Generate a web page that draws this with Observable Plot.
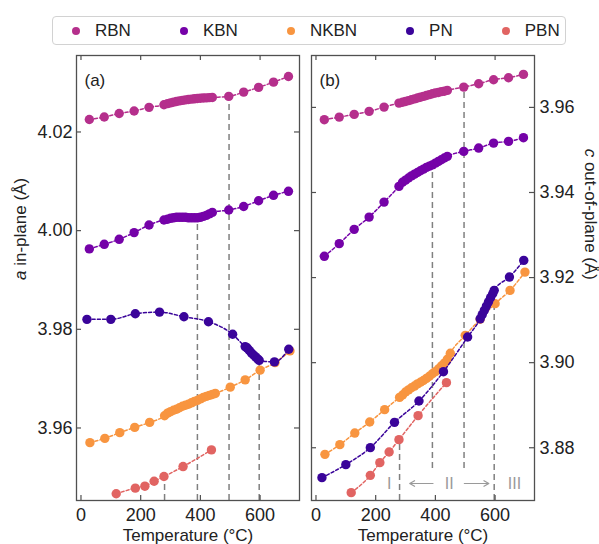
<!DOCTYPE html>
<html>
<head>
<meta charset="utf-8">
<script src="https://cdn.jsdelivr.net/npm/d3@7"></script>
<script src="https://cdn.jsdelivr.net/npm/@observablehq/plot@0.6"></script>
<style>
  html, body { margin: 0; padding: 0; background: #fff; }
  body { width: 599px; height: 544px; position: relative; overflow: hidden;
         font-family: "Liberation Sans", Arial, sans-serif; color: #222; }
  #legend { position: absolute; left: 52px; top: 16px; width: 514px; height: 29px;
            border: 1px solid #d2d2d2; border-radius: 4px; box-sizing: border-box;
            display: flex; align-items: center; padding-left: 19px; }
  #legend .item { display: flex; align-items: center; font-size: 17px; line-height: 1; }
  #legend .item + .item { margin-left: 49px; }
  #legend svg { margin-right: 15px; display: block; }
  #chartA { position: absolute; left: 0; top: 45px; }
  #chartB { position: absolute; left: 305px; top: 45px; }
</style>
</head>
<body>
<div id="legend"></div>
<div id="chartA"></div>
<div id="chartB"></div>
<script>
// ---- Lattice parameters vs temperature ----
const names  = ["RBN", "KBN", "NKBN", "PN", "PBN"];
const colors = ["#b52f8c", "#7502a8", "#f89540", "#3a049a", "#e16462"];

// Temperatures (°C)
const rbnT  = [28, 78, 128, 178, 228, 278, 290, 300, 310, 320, 330, 340, 350, 360, 370, 380, 390, 400, 410, 420, 430, 440, 495, 545, 595, 645, 695];
const kbnT  = [28, 78, 128, 178, 228, 278, 290, 300, 310, 320, 330, 340, 350, 360, 370, 380, 390, 400, 410, 420, 430, 440, 495, 545, 595, 645, 695];
const nkbnT = [30, 80, 130, 180, 230, 280, 290, 300, 310, 320, 330, 340, 350, 360, 370, 380, 390, 400, 410, 420, 430, 440, 450, 500, 550, 600, 650, 700];
const pnT   = [20, 100, 182, 263, 345, 427, 508, 550, 557, 564, 571, 578, 585, 592, 597, 648, 696];
const pbnT  = [118, 182, 214, 245, 278, 342, 437];

// a in-plane (Å)
const rbnA  = [4.02253, 4.02303, 4.02374, 4.02424, 4.02499, 4.02552, 4.02575, 4.02590, 4.02605, 4.02618, 4.02630, 4.02640, 4.02650, 4.02658, 4.02665, 4.02672, 4.02678, 4.02683, 4.02688, 4.02692, 4.02696, 4.02700, 4.02721, 4.02808, 4.02903, 4.03010, 4.03125];
const kbnA  = [3.99630, 3.99723, 3.99824, 3.99960, 4.00115, 4.00216, 4.0023, 4.0025, 4.0026, 4.0027, 4.0027, 4.0027, 4.0027, 4.0026, 4.0026, 4.0026, 4.0026, 4.0027, 4.0029, 4.0031, 4.0034, 4.0037, 4.00418, 4.00490, 4.00606, 4.00716, 4.00797];
const nkbnA = [3.95703, 3.95790, 3.95905, 3.96012, 3.96113, 3.96248, 3.9630, 3.9633, 3.9636, 3.9638, 3.9641, 3.9644, 3.9646, 3.9648, 3.9651, 3.9654, 3.9656, 3.9659, 3.9662, 3.9664, 3.9666, 3.9668, 3.9670, 3.96828, 3.96976, 3.97172, 3.97325, 3.97562];
const pnA   = [3.98202, 3.98202, 3.98315, 3.98349, 3.98255, 3.98154, 3.97899, 3.9765, 3.9762, 3.9757, 3.9752, 3.9748, 3.9744, 3.9740, 3.9737, 3.97339, 3.97596];
const pbnA  = [3.94667, 3.94780, 3.94820, 3.94921, 3.95016, 3.95218, 3.95556];

// c out-of-plane (Å)
const rbnC  = [3.95711, 3.95772, 3.95835, 3.95906, 3.96007, 3.96101, 3.9612, 3.9614, 3.9616, 3.9618, 3.9620, 3.9622, 3.9624, 3.9626, 3.9628, 3.9630, 3.9632, 3.9634, 3.9635, 3.9637, 3.9638, 3.9640, 3.96477, 3.96557, 3.96651, 3.96698, 3.96776];
const kbnC  = [3.92500, 3.92797, 3.93133, 3.93422, 3.93774, 3.94143, 3.9424, 3.9429, 3.9434, 3.9439, 3.9443, 3.9447, 3.9451, 3.9455, 3.9459, 3.9462, 3.9465, 3.9469, 3.9473, 3.9477, 3.9481, 3.9485, 3.94966, 3.95044, 3.95161, 3.95201, 3.95288];
const nkbnC = [3.87845, 3.88073, 3.88345, 3.88604, 3.88895, 3.89184, 3.8924, 3.8931, 3.8936, 3.8941, 3.8945, 3.8950, 3.8954, 3.8958, 3.8963, 3.8968, 3.8974, 3.8979, 3.8985, 3.8992, 3.8999, 3.9008, 3.9022, 3.90642, 3.9102, 3.91387, 3.91699, 3.92129];
const pnC   = [3.87297, 3.87603, 3.88002, 3.88597, 3.89098, 3.89788, 3.90602, 3.9103, 3.9113, 3.9123, 3.9133, 3.9143, 3.9153, 3.9162, 3.9170, 3.92012, 3.92404];
const pbnC  = [3.86945, 3.87351, 3.87650, 3.87899, 3.88190, 3.88754, 3.89530];

// Axes
const xDomain = [-15, 732];
const xTicks  = [0, 200, 400, 600];
const aDomain = [3.9453, 4.0355];
const aTicks  = [3.96, 3.98, 4.00, 4.02];
const cDomain = [3.8676, 3.9722];
const cTicks  = [3.88, 3.90, 3.92, 3.94, 3.96];

// Transition temperatures (dashed guides) and their vertical extents
const guideT    = [280, 390, 496, 597];
const guideATop = [3.9502, 4.0026, 4.0272, 3.9737];
const guideCLow = [3.8676, 3.8751, 3.8751, 3.8676];
const guideCTop = [3.8819, 3.9465, 3.9648, 3.9139];

// Region annotations (panel b)
const regionLabels = ["I", "II", "III"];
const regionT      = [245, 446, 665];
const regionC      = 3.8716;
const arrowFromT   = [392, 497];
const arrowToT     = [314, 579];

const seriesT = [rbnT, kbnT, nkbnT, pnT, pbnT];
const seriesA = [rbnA, kbnA, nkbnA, pnA, pbnA];
const seriesC = [rbnC, kbnC, nkbnC, pnC, pbnC];

const rowsOf = (vals) => names.map((name, i) =>
  seriesT[i].map((T, j) => ({name, T, v: vals[i][j]})));

// ---- Legend ----
const legend = document.getElementById("legend");
names.forEach((n, i) => {
  const item = document.createElement("div");
  item.className = "item";
  item.innerHTML = `<svg width="8" height="8"><circle cx="4" cy="4" r="4" fill="${colors[i]}"/></svg><span>${n}</span>`;
  legend.appendChild(item);
});

// ---- Panels ----
const H = 499, MT = 10, MB = 44;
const FRAME_H = H - MT - MB;
const FRAME_W = 223;
const TICK = 5;
const FRAME_COLOR = "#505050";

function panel({width, marginLeft, marginRight, yDomain, yTicks, vals, side, tag, yLabel, guides, extra = []}) {
  const groups = rowsOf(vals);
  const marks = [];
  // guides below the data
  marks.push(Plot.ruleX(guides, {x: "T", y1: "lo", y2: "hi", stroke: "#808080", strokeWidth: 1.5, strokeDasharray: "6,4"}));
  marks.push(...extra);
  groups.forEach((rows, i) => {
    marks.push(Plot.line(rows, {x: "T", y: "v", stroke: colors[i], strokeWidth: 1.5, strokeDasharray: "3,2.2", curve: "monotone-x"}));
    marks.push(Plot.dot(rows, {x: "T", y: "v", r: 4.7, fill: colors[i]}));
  });
  // frame and inward ticks on all four sides
  marks.push(
    Plot.frame({stroke: FRAME_COLOR, strokeWidth: 1.3}),
    Plot.tickX(xTicks, {x: d => d, stroke: FRAME_COLOR, strokeWidth: 1.2, insetTop: FRAME_H - TICK}),
    Plot.tickX(xTicks, {x: d => d, stroke: FRAME_COLOR, strokeWidth: 1.2, insetBottom: FRAME_H - TICK}),
    Plot.tickY(yTicks, {y: d => d, stroke: FRAME_COLOR, strokeWidth: 1.2, insetRight: FRAME_W - TICK}),
    Plot.tickY(yTicks, {y: d => d, stroke: FRAME_COLOR, strokeWidth: 1.2, insetLeft: FRAME_W - TICK}),
    Plot.axisX({ticks: xTicks, tickSize: 0, tickPadding: 8, label: null, tickFormat: d => String(d), fontSize: 18}),
    Plot.axisY({anchor: side, ticks: yTicks, tickSize: 0, tickPadding: side === "left" ? 4 : 5, label: null, tickFormat: d3.format(".2f"), fontSize: 18}),
    Plot.text([tag], {text: d => d, frameAnchor: "top-left", lineAnchor: "middle", dx: 8, dy: 25, textAnchor: "start", fontSize: 17}),
    Plot.text(["Temperature (°C)"], {text: d => d, frameAnchor: "bottom", lineAnchor: "middle", dy: 35, fontSize: 17})
  );
  if (yLabel) {
    marks.push(Plot.text([yLabel], {
      text: d => d, frameAnchor: side, lineAnchor: "middle", dx: side === "left" ? -56 : 56, dy: 2,
      rotate: side === "left" ? -90 : 90, fontSize: 17
    }));
  }
  const svg = Plot.plot({
    width, height: H, marginLeft, marginRight, marginTop: MT, marginBottom: MB,
    x: {domain: xDomain},
    y: {domain: yDomain},
    style: {fontFamily: '"Liberation Sans", Arial, sans-serif', fontSize: "18px", color: "#222", background: "transparent", overflow: "visible"},
    marks
  });
  // italic lattice-parameter symbol in the axis title
  if (yLabel) {
    svg.querySelectorAll("text").forEach(t => {
      if (t.textContent === yLabel) {
        const sym = yLabel[0], rest = yLabel.slice(1);
        t.textContent = "";
        const ns = "http://www.w3.org/2000/svg";
        const s1 = document.createElementNS(ns, "tspan");
        s1.setAttribute("font-style", "italic");
        s1.textContent = sym;
        const s2 = document.createElementNS(ns, "tspan");
        s2.textContent = rest;
        t.appendChild(s1); t.appendChild(s2);
      }
    });
  }
  return svg;
}

const guidesA = guideT.map((T, i) => ({T, lo: aDomain[0], hi: guideATop[i]}));
const guidesC = guideT.map((T, i) => ({T, lo: guideCLow[i], hi: guideCTop[i]}));

const regionRows = regionLabels.map((label, i) => ({label, T: regionT[i]}));
const arrowRows  = arrowFromT.map((T, i) => ({T1: T, T2: arrowToT[i]}));

document.getElementById("chartA").appendChild(panel({
  width: 305, marginLeft: 76, marginRight: 6,
  yDomain: aDomain, yTicks: aTicks, vals: seriesA, side: "left",
  tag: "(a)", yLabel: "a in-plane (Å)", guides: guidesA
}));

document.getElementById("chartB").appendChild(panel({
  width: 294, marginLeft: 6, marginRight: 65,
  yDomain: cDomain, yTicks: cTicks, vals: seriesC, side: "right",
  tag: "(b)", yLabel: "c out-of-plane (Å)", guides: guidesC,
  extra: [
    Plot.text(regionRows, {x: "T", y: () => regionC, text: "label", fill: "#9a9a9a", fontSize: 16}),
    Plot.arrow(arrowRows, {x1: "T1", x2: "T2", y1: () => regionC, y2: () => regionC, stroke: "#9a9a9a", strokeWidth: 1.2, headLength: 7})
  ]
}));
</script>
</body>
</html>
